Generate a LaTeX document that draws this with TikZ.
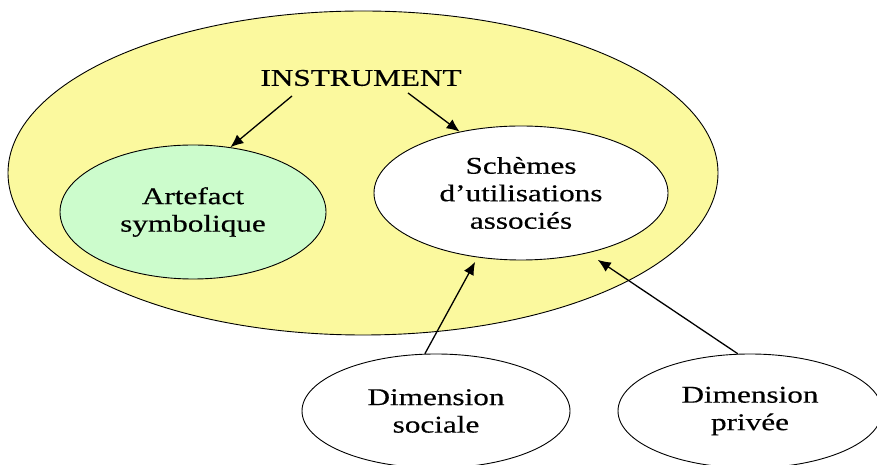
\documentclass[tikz,border=0pt]{standalone}
\usepackage{fontspec}
\setmainfont{Liberation Serif}[FakeStretch=1.3,FakeBold=0.4]
\usetikzlibrary{shapes.geometric,arrows.meta}
\definecolor{instrfill}{RGB}{251,249,158}
\definecolor{artfill}{RGB}{204,252,204}
\begin{document}
\begin{tikzpicture}[x=1pt,y=1pt,
  lbl/.style={font=\fontsize{24}{27.5}\selectfont},
  blob/.style={ellipse,draw=black,line width=0.9pt,inner sep=0pt,
    align=center,lbl},
  arr/.style={line width=1.3pt,-{Latex[length=13pt,width=11pt]}}]
  \useasboundingbox (0,0) rectangle (877,465);
  % outer ellipse: the instrument
  \node[blob,fill=instrfill,minimum width=710pt,minimum height=324pt] (big) at (363,292) {};
  \node[lbl,inner sep=0pt] (instr) at (361,387) {INSTRUMENT};
  % its two components
  \node[blob,fill=artfill,minimum width=266pt,minimum height=134pt] (art) at (193,253)
    {Artefact\\symbolique\rule[-1pt]{0pt}{1pt}};
  \node[blob,fill=white,minimum width=294pt,minimum height=134pt] (sch) at (521,272)
    {Schèmes\\d’utilisations\\associés};
  % the two dimensions of the schemes
  \node[blob,fill=white,minimum width=268pt,minimum height=114pt] (soc) at (436,54)
    {Dimension\\sociale};
  \node[blob,fill=white,minimum width=264pt,minimum height=114pt] (priv) at (750,54)
    {Dimension\\privée};
  % connectors
  \draw[arr] ([shift={(-69,-18)}]instr.center) -- (art.60);
  \draw[arr] ([shift={(47,-15)}]instr.center) -- (sch.135);
  \draw[arr,shorten >=5pt] (soc.101) -- (sch.236);
  \draw[arr,shorten >=12pt] (priv.102) -- (sch.318);
\end{tikzpicture}
\end{document}
